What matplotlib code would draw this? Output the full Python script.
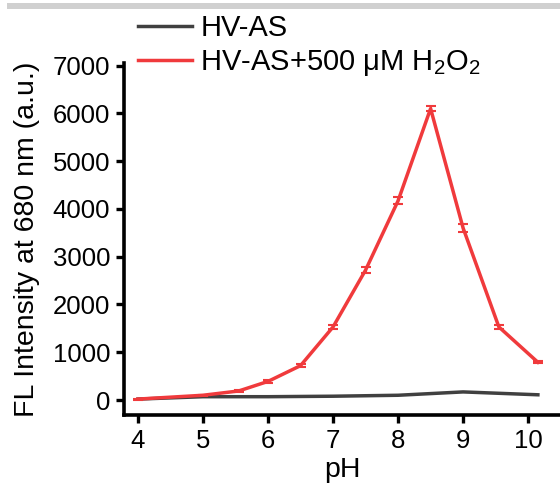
import matplotlib.pyplot as plt
import numpy as np

plt.rcParams['font.family'] = ['Liberation Sans', 'DejaVu Sans']
plt.rcParams['mathtext.fontset'] = 'custom'
plt.rcParams['mathtext.rm'] = 'Liberation Sans'

# data
ph_red = [4, 5, 5.55, 6, 6.5, 7, 7.5, 8, 8.5, 9, 9.55, 10.15]
fl_red = [20, 100, 190, 390, 720, 1530, 2720, 4170, 6100, 3600, 1530, 790]
err_red = [10, 15, 15, 25, 30, 50, 60, 70, 60, 90, 40, 20]
ph_black = [4, 5, 6, 7, 8, 9, 10.15]
fl_black = [20, 70, 70, 80, 100, 170, 110]

fig = plt.figure(figsize=(5.6, 4.86), dpi=100)
ax = fig.add_axes([0.2214, 0.146, 0.7786, 0.724])

# grey strip at the top of the image
fig.patches.append(plt.Rectangle((7 / 560, 1 - 9 / 486), 1, 6 / 486,
                                 transform=fig.transFigure, color='#d0d0d0', lw=0))

l1, = ax.plot(ph_black, fl_black, color='#404040', lw=2.5)
l2 = ax.errorbar(ph_red, fl_red, yerr=err_red, color='#f03a3c', lw=2.5,
                 capsize=3.5, capthick=1.5, elinewidth=1.5)

ax.set_xlim(3.785, 10.49)
ax.set_ylim(-314, 7050)
ax.set_xticks([4, 5, 6, 7, 8, 9, 10])
ax.set_yticks([0, 1000, 2000, 3000, 4000, 5000, 6000, 7000])
ax.tick_params(width=2.4, length=6, labelsize=18.5, pad=4)
for s in ['top', 'right']:
    ax.spines[s].set_visible(False)
for s in ['left', 'bottom']:
    ax.spines[s].set_linewidth(2.6)

ax.set_xlabel('pH', fontsize=20.5, labelpad=3)
ax.set_ylabel('FL Intensity at 680 nm (a.u.)', fontsize=20.5, labelpad=9)

fig.legend([l1, l2[0]], ['HV-AS', r'HV-AS+500 μM H$_2$O$_2$'],
           loc='upper left', bbox_to_anchor=(0.225, 0.995), frameon=False,
           fontsize=21, handlelength=1.85, handletextpad=0.3, labelspacing=0.2,
           borderaxespad=0)

fig.savefig('out.png', dpi=100)
